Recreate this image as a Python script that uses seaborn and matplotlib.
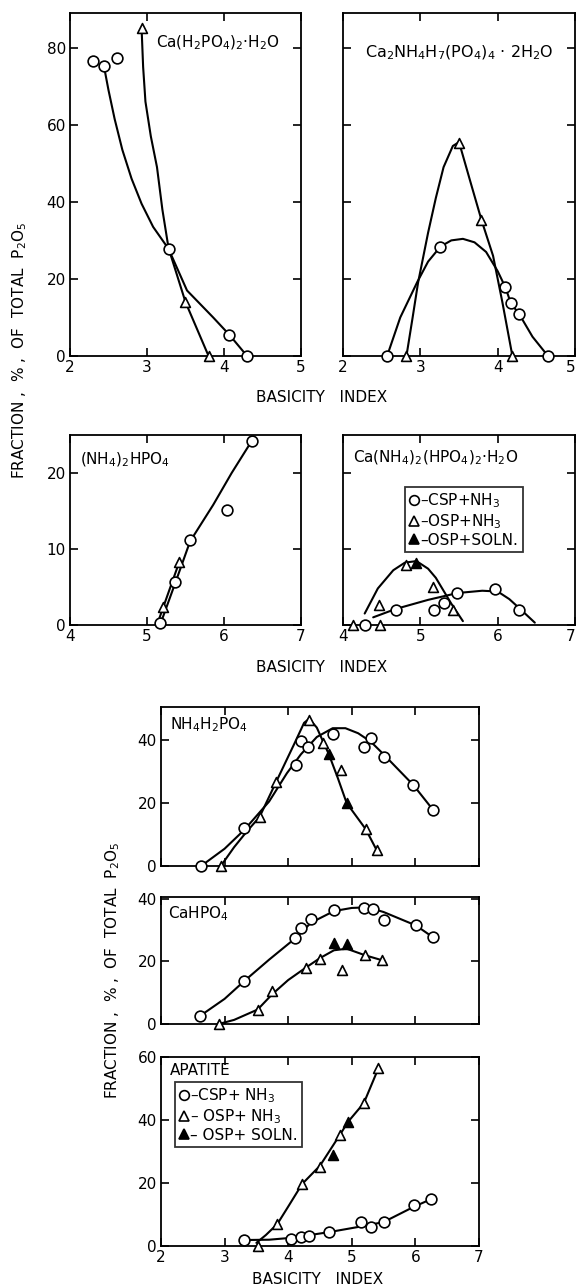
import matplotlib
matplotlib.use("Agg")
import matplotlib.pyplot as plt
from matplotlib.lines import Line2D
import seaborn as sns

# ---- Ca(H2PO4)2.H2O (top left)
mcp_csp_x = [2.30, 2.44, 2.61, 3.28, 4.07, 4.30]
mcp_csp_y = [76.5, 75.3, 77.4, 27.8, 5.5, 0.0]
mcp_osp_x = [2.93, 3.50, 3.80]
mcp_osp_y = [85.0, 14.0, 0.0]
mcp_csp_curve_x = [2.44, 2.50, 2.58, 2.68, 2.80, 2.93, 3.08, 3.28, 3.52, 3.86, 4.07, 4.30]
mcp_csp_curve_y = [75.3, 69.0, 61.5, 53.5, 46.0, 39.5, 33.5, 27.8, 17.0, 10.0, 5.5, 0.0]
mcp_osp_curve_x = [2.93, 2.95, 2.98, 3.05, 3.13, 3.20, 3.28, 3.50, 3.80]
mcp_osp_curve_y = [85.0, 75.0, 66.0, 57.0, 49.0, 38.0, 28.0, 14.0, 0.0]

# ---- Ca2NH4H7(PO4)4.2H2O (top right)
dcp_csp_x = [2.57, 3.26, 4.10, 4.17, 4.28, 4.65]
dcp_csp_y = [0.0, 28.4, 17.8, 13.7, 10.8, 0.0]
dcp_osp_x = [2.82, 3.50, 3.79, 4.19]
dcp_osp_y = [0.0, 55.3, 35.3, 0.0]
dcp_csp_curve_x = [2.57, 2.74, 2.96, 3.10, 3.26, 3.40, 3.55, 3.70, 3.85, 4.00, 4.10, 4.17, 4.28, 4.45, 4.65]
dcp_csp_curve_y = [0.0, 10.0, 19.2, 24.5, 28.4, 30.0, 30.4, 29.5, 27.0, 22.0, 17.8, 13.7, 10.8, 5.0, 0.0]
dcp_osp_curve_x = [2.82, 2.90, 2.97, 3.10, 3.20, 3.30, 3.42, 3.50, 3.65, 3.79, 3.94, 4.06, 4.19]
dcp_osp_curve_y = [0.0, 10.0, 19.0, 32.0, 41.0, 49.0, 54.5, 55.5, 45.0, 35.3, 26.0, 14.0, 0.0]

# ---- (NH4)2HPO4 (middle left)
dap_csp_x = [5.17, 5.37, 5.56, 6.04, 6.36]
dap_csp_y = [0.3, 5.6, 11.2, 15.1, 24.2]
dap_osp_x = [5.21, 5.42]
dap_osp_y = [2.3, 8.3]
dap_csp_curve_x = [5.17, 5.37, 5.56, 5.86, 6.10, 6.36]
dap_csp_curve_y = [0.0, 5.6, 11.0, 15.8, 20.0, 24.2]
dap_osp_curve_x = [5.13, 5.42]
dap_osp_curve_y = [0.0, 8.3]

# ---- Ca(NH4)2(HPO4)2.H2O (middle right)
cad_csp_x = [4.29, 4.68, 5.18, 5.30, 5.48, 5.96, 6.28]
cad_csp_y = [0.0, 1.9, 2.0, 2.9, 4.2, 4.7, 1.9]
cad_osp_x = [4.13, 4.47, 4.48, 4.81, 5.16, 5.42]
cad_osp_y = [0.0, 2.6, 0.0, 7.9, 5.0, 2.0]
cad_soln_x = [4.94]
cad_soln_y = [8.2]
cad_csp_curve_x = [4.39, 4.68, 5.10, 5.48, 5.80, 6.00, 6.15, 6.28, 6.48]
cad_csp_curve_y = [1.0, 2.1, 3.3, 4.2, 4.5, 4.4, 3.4, 2.2, 0.3]
cad_osp_curve_x = [4.28, 4.45, 4.65, 4.80, 4.95, 5.10, 5.20, 5.40, 5.55]
cad_osp_curve_y = [1.5, 4.8, 7.2, 8.2, 8.4, 7.4, 6.2, 2.8, 0.5]

# ---- NH4H2PO4
map_csp_x = [2.63, 3.31, 4.13, 4.20, 4.31, 4.70, 5.19, 5.31, 5.50, 5.97, 6.28]
map_csp_y = [0.0, 12.1, 32.0, 39.7, 37.8, 41.9, 37.8, 40.6, 34.6, 25.7, 17.8]
map_osp_x = [2.94, 3.55, 3.81, 4.33, 4.55, 4.83, 5.22, 5.39]
map_osp_y = [0.0, 15.6, 26.7, 46.3, 39.0, 30.5, 11.7, 5.1]
map_soln_x = [4.64, 4.92]
map_soln_y = [35.5, 20.0]
map_csp_curve_x = [2.63, 3.00, 3.31, 3.70, 3.98, 4.20, 4.45, 4.70, 4.90, 5.10, 5.30, 5.50, 5.97, 6.28]
map_csp_curve_y = [0.0, 5.5, 11.5, 20.5, 29.5, 35.5, 41.0, 43.8, 43.8, 42.2, 39.5, 35.5, 25.7, 17.8]
map_osp_curve_x = [2.94, 3.15, 3.35, 3.55, 3.81, 4.10, 4.25, 4.33, 4.45, 4.55, 4.64, 4.78, 4.92, 5.22, 5.39]
map_osp_curve_y = [0.0, 6.0, 11.0, 15.6, 26.7, 39.0, 45.5, 46.8, 44.0, 39.5, 35.5, 28.0, 20.0, 11.7, 5.1]

# ---- CaHPO4
dcpa_csp_x = [2.61, 3.31, 4.11, 4.20, 4.36, 4.72, 5.20, 5.34, 5.50, 6.01, 6.28]
dcpa_csp_y = [2.5, 13.7, 27.3, 30.5, 33.6, 36.5, 37.0, 36.8, 33.3, 31.4, 27.6]
dcpa_osp_x = [2.91, 3.52, 3.75, 4.28, 4.50, 4.84, 5.21, 5.48]
dcpa_osp_y = [0.0, 4.4, 10.5, 18.0, 20.8, 17.1, 21.9, 20.3]
dcpa_soln_x = [4.72, 4.92]
dcpa_soln_y = [25.7, 25.4]
dcpa_csp_curve_x = [2.61, 3.00, 3.31, 3.70, 4.11, 4.36, 4.72, 5.00, 5.25, 5.50, 6.01, 6.28]
dcpa_csp_curve_y = [2.5, 8.0, 13.7, 20.5, 27.3, 32.3, 36.0, 37.0, 37.2, 35.7, 31.4, 27.6]
dcpa_osp_curve_x = [2.91, 3.15, 3.52, 3.75, 4.00, 4.28, 4.50, 4.72, 4.92, 5.21, 5.48]
dcpa_osp_curve_y = [0.0, 1.3, 4.6, 9.5, 14.0, 18.0, 21.0, 23.5, 24.0, 21.9, 20.3]

# ---- Apatite
apa_csp_x = [3.31, 4.05, 4.20, 4.33, 4.64, 5.14, 5.30, 5.50, 5.98, 6.25]
apa_csp_y = [1.9, 2.2, 2.9, 3.3, 4.4, 7.6, 6.0, 7.6, 13.0, 14.9]
apa_osp_x = [3.53, 3.83, 4.22, 4.50, 4.81, 5.19, 5.42]
apa_osp_y = [0.0, 7.0, 19.7, 25.0, 35.2, 45.4, 56.5]
apa_soln_x = [4.70, 4.94]
apa_soln_y = [28.9, 39.4]
apa_csp_curve_x = [3.31, 3.70, 4.05, 4.64, 5.20, 5.50, 5.98, 6.25]
apa_csp_curve_y = [1.9, 2.0, 2.6, 4.4, 6.4, 7.6, 12.5, 14.9]
apa_osp_curve_x = [3.50, 3.65, 3.83, 4.00, 4.22, 4.50, 4.81, 4.94, 5.19, 5.42]
apa_osp_curve_y = [1.0, 3.5, 7.0, 12.5, 19.7, 25.5, 35.2, 39.4, 45.4, 56.5]

sns.set_style("ticks")
plt.rcParams["font.family"] = ["DejaVu Sans"]
plt.rcParams["mathtext.default"] = "regular"
plt.rcParams["text.color"] = "black"
plt.rcParams["xtick.color"] = "black"
plt.rcParams["ytick.color"] = "black"
plt.rcParams["axes.labelcolor"] = "black"

LW = 1.5
FS = 11
YLAB = "FRACTION ,  % ,  OF  TOTAL  P$_2$O$_5$"


def curve(ax, x, y):
    sns.lineplot(x=x, y=y, ax=ax, color="black", lw=LW, sort=False, estimator=None)


def points(ax, x, y, marker, filled=False, size=60):
    sns.scatterplot(x=x, y=y, ax=ax, marker=marker, s=size,
                    color="black" if filled else "white", edgecolor="black",
                    linewidth=1.2, zorder=3, clip_on=False)


def style(ax, xlim, ylim, xticks, yticks, xlabels=True, ylabels=True, last_right=False):
    ax.set_xlim(*xlim)
    ax.set_ylim(*ylim)
    ax.set_xticks(xticks)
    ax.set_yticks(yticks)
    ax.tick_params(direction="in", length=6, width=1.2, top=True, right=True,
                   labelsize=FS, pad=3, colors="black")
    if not xlabels:
        ax.set_xticklabels([])
    if not ylabels:
        ax.set_yticklabels([])
    if last_right:
        ax.get_xticklabels()[-1].set_horizontalalignment("right")
    for s in ax.spines.values():
        s.set_linewidth(1.3)
        s.set_color("black")
    ax.set_xlabel("")
    ax.set_ylabel("")


fig = plt.figure(figsize=(5.77, 12.88), dpi=100)

# top row
ax1 = fig.add_axes([0.1213, 0.7236, 0.4003, 0.2663])
curve(ax1, mcp_csp_curve_x, mcp_csp_curve_y)
curve(ax1, mcp_osp_curve_x, mcp_osp_curve_y)
points(ax1, mcp_csp_x, mcp_csp_y, "o")
points(ax1, mcp_osp_x, mcp_osp_y, "^", size=50)
style(ax1, (2, 5), (0, 89), [2, 3, 4, 5], [0, 20, 40, 60, 80])
ax1.text(3.12, 81.3, "Ca(H$_2$PO$_4$)$_2$·H$_2$O", fontsize=FS, va="center")

ax2 = fig.add_axes([0.5945, 0.7236, 0.4021, 0.2663])
curve(ax2, dcp_csp_curve_x, dcp_csp_curve_y)
curve(ax2, dcp_osp_curve_x, dcp_osp_curve_y)
points(ax2, dcp_csp_x, dcp_csp_y, "o")
points(ax2, dcp_osp_x, dcp_osp_y, "^", size=50)
style(ax2, (2, 5), (0, 89), [2, 3, 4, 5], [0, 20, 40, 60, 80], ylabels=False, last_right=True)
ax2.text(0.5, 0.885, "Ca$_2$NH$_4$H$_7$(PO$_4$)$_4$ · 2H$_2$O", transform=ax2.transAxes,
         fontsize=FS + 0.5, ha="center", va="center")

fig.text(322 / 577, 1 - 397 / 1288, "BASICITY   INDEX", fontsize=FS, ha="center", va="center")

# middle row
ax3 = fig.add_axes([0.1213, 0.5148, 0.4003, 0.1475])
curve(ax3, dap_csp_curve_x, dap_csp_curve_y)
curve(ax3, dap_osp_curve_x, dap_osp_curve_y)
points(ax3, dap_csp_x, dap_csp_y, "o")
points(ax3, dap_osp_x, dap_osp_y, "^", size=50)
style(ax3, (4, 7), (0, 25), [4, 5, 6, 7], [0, 10, 20])
ax3.text(0.043, 0.868, "(NH$_4$)$_2$HPO$_4$", transform=ax3.transAxes, fontsize=FS, va="center")

ax4 = fig.add_axes([0.5945, 0.5148, 0.4021, 0.1475])
curve(ax4, cad_csp_curve_x, cad_csp_curve_y)
curve(ax4, cad_osp_curve_x, cad_osp_curve_y)
points(ax4, cad_csp_x, cad_csp_y, "o")
points(ax4, cad_osp_x, cad_osp_y, "^", size=50)
points(ax4, cad_soln_x, cad_soln_y, "^", filled=True, size=50)
style(ax4, (4, 7), (0, 25), [4, 5, 6, 7], [0, 10, 20], ylabels=False, last_right=True)
ax4.text(0.043, 0.88, "Ca(NH$_4$)$_2$(HPO$_4$)$_2$·H$_2$O", transform=ax4.transAxes,
         fontsize=FS, va="center")

fig.text(322 / 577, 1 - 667 / 1288, "BASICITY   INDEX", fontsize=FS, ha="center", va="center")


def legend_handles():
    kw = dict(ls="none", color="black", markersize=7, markeredgewidth=1.2)
    return [Line2D([], [], marker="o", markerfacecolor="white", **kw),
            Line2D([], [], marker="^", markerfacecolor="white", **kw),
            Line2D([], [], marker="^", markerfacecolor="black", **kw)]


def add_legend(ax, labels, anchor):
    leg = ax.legend(legend_handles(), labels, loc="upper left", bbox_to_anchor=anchor,
                    frameon=True, fancybox=False, fontsize=FS, handlelength=0.6,
                    handletextpad=0.1, borderpad=0.3, labelspacing=0.12,
                    borderaxespad=0, labelcolor="black")
    leg.get_frame().set_edgecolor("black")
    leg.get_frame().set_linewidth(1.3)
    return leg


add_legend(ax4, ["–CSP+NH$_3$", "–OSP+NH$_3$", "–OSP+SOLN."], (0.267, 0.726))

# bottom stack
ax5 = fig.add_axes([0.279, 0.3276, 0.5511, 0.1234])
curve(ax5, map_csp_curve_x, map_csp_curve_y)
curve(ax5, map_osp_curve_x, map_osp_curve_y)
points(ax5, map_csp_x, map_csp_y, "o")
points(ax5, map_osp_x, map_osp_y, "^", size=50)
points(ax5, map_soln_x, map_soln_y, "^", filled=True, size=50)
style(ax5, (2, 7), (0, 50.5), [2, 3, 4, 5, 6, 7], [0, 20, 40], xlabels=False)
ax5.text(0.028, 0.887, "NH$_4$H$_2$PO$_4$", transform=ax5.transAxes, fontsize=FS, va="center")

ax6 = fig.add_axes([0.279, 0.2050, 0.5511, 0.0986])
curve(ax6, dcpa_csp_curve_x, dcpa_csp_curve_y)
curve(ax6, dcpa_osp_curve_x, dcpa_osp_curve_y)
points(ax6, dcpa_csp_x, dcpa_csp_y, "o")
points(ax6, dcpa_osp_x, dcpa_osp_y, "^", size=50)
points(ax6, dcpa_soln_x, dcpa_soln_y, "^", filled=True, size=50)
style(ax6, (2, 7), (0, 40.5), [2, 3, 4, 5, 6, 7], [0, 20, 40], xlabels=False)
ax6.text(0.022, 0.866, "CaHPO$_4$", transform=ax6.transAxes, fontsize=FS, va="center")

ax7 = fig.add_axes([0.279, 0.0326, 0.5511, 0.1467])
curve(ax7, apa_csp_curve_x, apa_csp_curve_y)
curve(ax7, apa_osp_curve_x, apa_osp_curve_y)
points(ax7, apa_csp_x, apa_csp_y, "o")
points(ax7, apa_osp_x, apa_osp_y, "^", size=50)
points(ax7, apa_soln_x, apa_soln_y, "^", filled=True, size=50)
style(ax7, (2, 7), (0, 60), [2, 3, 4, 5, 6, 7], [0, 20, 40, 60])
ax7.text(0.028, 0.93, "APATITE", transform=ax7.transAxes, fontsize=FS, va="center")
add_legend(ax7, ["–CSP+ NH$_3$", "– OSP+ NH$_3$", "– OSP+ SOLN."], (0.044, 0.868))

fig.text(318 / 577, 1 - 1280 / 1288, "BASICITY   INDEX", fontsize=FS, ha="center", va="center")

# y labels
fig.text(20 / 577, 1 - 350 / 1288, YLAB, rotation=90,
         fontsize=FS, ha="center", va="center")
fig.text(113 / 577, 1 - 970 / 1288, YLAB, rotation=90,
         fontsize=FS, ha="center", va="center")

fig.savefig("out.png", dpi=100)
